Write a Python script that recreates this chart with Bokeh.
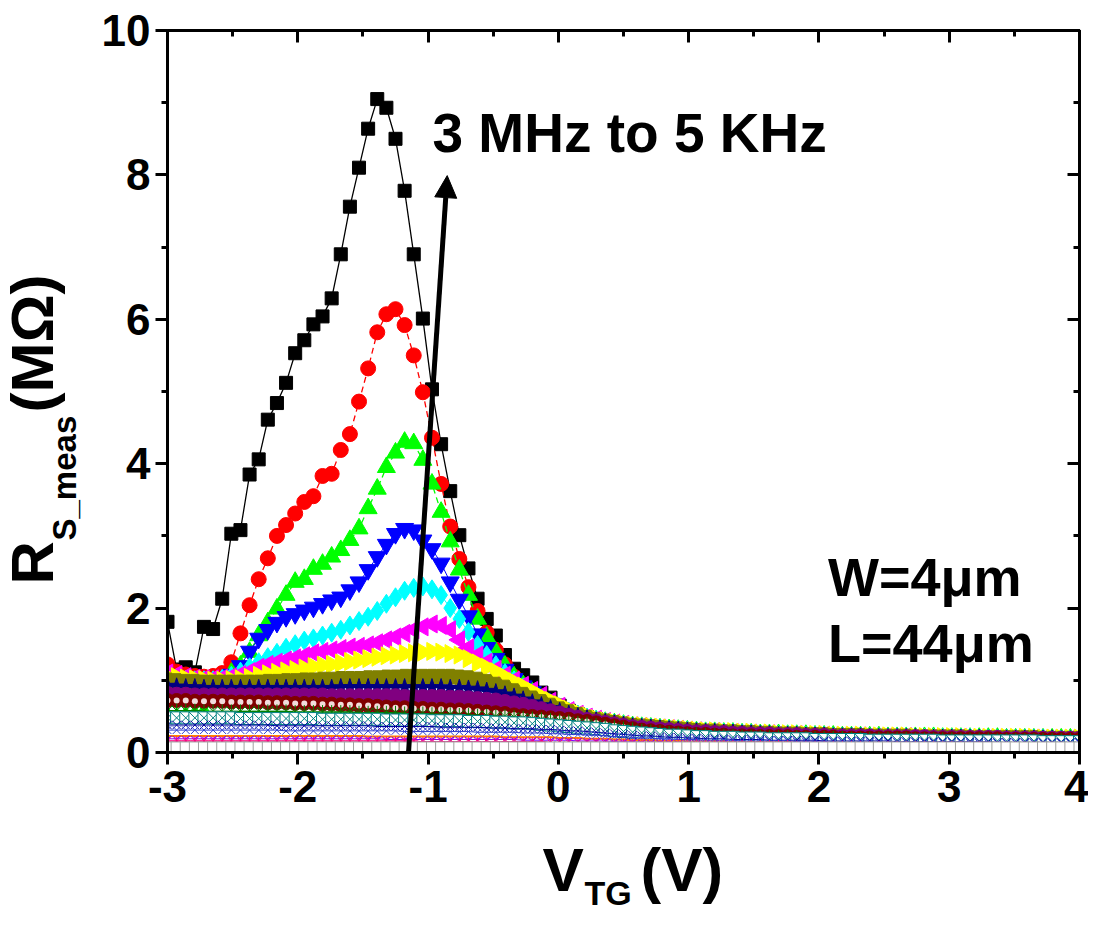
from bokeh.plotting import figure
from bokeh.models import Range1d, LinearAxis, Label, Arrow, NormalHead, SingleIntervalTicker
from bokeh.layouts import row, column
from bokeh.embed import file_html
from bokeh.resources import INLINE

# gate-voltage sweep, -3 V to 4 V in 0.07 V steps (101 points)
VTG = [round(-3 + 0.07 * i, 2) for i in range(101)]

s01_black = [1.81,1.15,1.18,1.11,1.74,1.71,2.13,3.03,3.08,3.85,
 4.06,4.61,4.84,5.12,5.53,5.71,5.93,6.04,6.29,6.90,
 7.56,8.10,8.64,9.05,8.93,8.50,7.78,6.90,6.01,5.03,
 4.27,3.62,3.01,2.55,2.13,1.85,1.62,1.35,1.16,1.07,
 0.97,0.83,0.76,0.65,0.58,0.53,0.49,0.46,0.43,0.41,
 0.39,0.37,0.36,0.35,0.34,0.33,0.32,0.31,0.30,0.29,
 0.29,0.28,0.28,0.27,0.27,0.26,0.26,0.25,0.25,0.25,
 0.24,0.24,0.24,0.23,0.23,0.23,0.23,0.22,0.22,0.22,
 0.22,0.22,0.21,0.21,0.21,0.21,0.21,0.21,0.20,0.20,
 0.20,0.20,0.20,0.20,0.20,0.19,0.19,0.19,0.19,0.19,
 0.19]
s02_red = [1.22,1.12,1.08,1.06,1.05,1.06,1.10,1.25,1.65,2.04,
 2.40,2.69,3.00,3.15,3.31,3.47,3.55,3.83,3.86,4.19,
 4.41,4.86,5.32,5.82,6.07,6.14,5.92,5.50,4.99,4.36,
 3.72,3.13,2.68,2.29,1.96,1.66,1.42,1.22,1.05,0.93,
 0.83,0.74,0.67,0.60,0.55,0.51,0.47,0.44,0.42,0.40,
 0.38,0.36,0.35,0.34,0.33,0.32,0.31,0.30,0.29,0.29,
 0.28,0.28,0.27,0.27,0.26,0.26,0.25,0.25,0.25,0.24,
 0.24,0.24,0.23,0.23,0.23,0.22,0.22,0.22,0.22,0.22,
 0.21,0.21,0.21,0.21,0.21,0.21,0.20,0.20,0.20,0.20,
 0.20,0.20,0.20,0.19,0.19,0.19,0.19,0.19,0.19,0.19,
 0.19]
s03_green = [0.50,0.48,0.50,0.52,0.55,0.90,1.00,1.10,1.20,1.39,
 1.62,1.80,1.99,2.18,2.36,2.40,2.54,2.61,2.71,2.80,
 2.94,3.10,3.38,3.65,3.95,4.15,4.30,4.28,4.05,3.72,
 3.33,2.92,2.53,2.18,1.85,1.60,1.39,1.20,1.05,0.93,
 0.83,0.74,0.67,0.60,0.55,0.51,0.47,0.44,0.42,0.40,
 0.38,0.36,0.35,0.34,0.33,0.32,0.31,0.30,0.29,0.28,
 0.28,0.27,0.27,0.26,0.26,0.25,0.25,0.25,0.24,0.24,
 0.24,0.23,0.23,0.23,0.22,0.22,0.22,0.22,0.22,0.21,
 0.21,0.21,0.21,0.21,0.21,0.20,0.20,0.20,0.20,0.20,
 0.20,0.20,0.19,0.19,0.19,0.19,0.19,0.19,0.19,0.19,
 0.18]
s04_blue = [1.02,1.00,0.98,0.97,0.97,0.98,1.00,1.08,1.20,1.40,
 1.58,1.70,1.80,1.88,1.92,1.97,2.01,2.06,2.11,2.15,
 2.25,2.36,2.53,2.71,2.88,3.03,3.10,3.08,2.94,2.82,
 2.62,2.36,2.12,1.89,1.64,1.45,1.30,1.15,1.02,0.92,
 0.84,0.75,0.68,0.61,0.55,0.51,0.47,0.44,0.41,0.39,
 0.37,0.36,0.35,0.34,0.33,0.32,0.31,0.30,0.29,0.28,
 0.28,0.27,0.27,0.26,0.26,0.25,0.25,0.24,0.24,0.24,
 0.23,0.23,0.23,0.22,0.22,0.22,0.22,0.21,0.21,0.21,
 0.21,0.21,0.21,0.20,0.20,0.20,0.20,0.20,0.20,0.20,
 0.19,0.19,0.19,0.19,0.19,0.19,0.19,0.19,0.18,0.18,
 0.18]
s05_cyan = [1.05,1.03,1.01,1.00,1.00,1.00,1.02,1.06,1.12,1.18,
 1.25,1.32,1.38,1.45,1.50,1.55,1.58,1.62,1.66,1.70,
 1.76,1.82,1.88,1.96,2.06,2.15,2.24,2.28,2.30,2.26,
 2.18,2.00,1.85,1.67,1.49,1.35,1.21,1.10,1.00,0.90,
 0.82,0.74,0.67,0.61,0.56,0.52,0.48,0.45,0.42,0.40,
 0.38,0.36,0.35,0.34,0.33,0.32,0.31,0.30,0.29,0.28,
 0.28,0.27,0.27,0.26,0.26,0.25,0.25,0.24,0.24,0.24,
 0.23,0.23,0.23,0.22,0.22,0.22,0.22,0.21,0.21,0.21,
 0.21,0.21,0.20,0.20,0.20,0.20,0.20,0.20,0.20,0.19,
 0.19,0.19,0.19,0.19,0.19,0.19,0.19,0.18,0.18,0.18,
 0.18]
s06_magenta = [1.10,1.08,1.05,1.03,1.02,1.02,1.03,1.05,1.08,1.12,
 1.18,1.22,1.25,1.28,1.31,1.34,1.38,1.40,1.42,1.44,
 1.46,1.47,1.49,1.52,1.56,1.60,1.65,1.70,1.74,1.78,
 1.76,1.70,1.56,1.45,1.35,1.25,1.15,1.07,1.00,0.93,
 0.86,0.79,0.71,0.64,0.58,0.53,0.49,0.46,0.43,0.41,
 0.39,0.37,0.36,0.35,0.34,0.33,0.32,0.31,0.30,0.29,
 0.29,0.28,0.28,0.27,0.27,0.26,0.26,0.25,0.25,0.25,
 0.24,0.24,0.24,0.23,0.23,0.23,0.23,0.22,0.22,0.22,
 0.22,0.22,0.21,0.21,0.21,0.21,0.21,0.21,0.20,0.20,
 0.20,0.20,0.20,0.20,0.20,0.20,0.19,0.19,0.19,0.19,
 0.19]
s07_yellow = [1.05,1.05,1.03,1.02,1.01,1.00,1.00,1.01,1.02,1.04,
 1.07,1.09,1.11,1.13,1.15,1.17,1.19,1.21,1.22,1.24,
 1.26,1.28,1.30,1.32,1.34,1.35,1.37,1.38,1.39,1.40,
 1.39,1.37,1.35,1.30,1.24,1.18,1.12,1.05,0.98,0.92,
 0.85,0.78,0.72,0.66,0.60,0.55,0.51,0.47,0.44,0.42,
 0.40,0.38,0.37,0.36,0.35,0.34,0.33,0.32,0.31,0.30,
 0.30,0.29,0.29,0.28,0.28,0.27,0.27,0.26,0.26,0.26,
 0.25,0.25,0.25,0.24,0.24,0.24,0.24,0.23,0.23,0.23,
 0.23,0.23,0.22,0.22,0.22,0.22,0.22,0.22,0.21,0.21,
 0.21,0.21,0.21,0.21,0.21,0.21,0.20,0.20,0.20,0.20,
 0.20]
s08_olive = [1.00,0.99,0.98,0.98,0.97,0.97,0.97,0.97,0.97,0.97,
 0.97,0.98,0.98,0.99,0.99,1.00,1.00,1.01,1.01,1.02,
 1.02,1.02,1.03,1.03,1.04,1.04,1.05,1.05,1.05,1.05,
 1.05,1.05,1.04,1.03,1.01,0.98,0.94,0.90,0.85,0.80,
 0.75,0.70,0.65,0.60,0.56,0.52,0.48,0.45,0.43,0.41,
 0.39,0.37,0.36,0.35,0.34,0.33,0.32,0.31,0.30,0.29,
 0.29,0.28,0.28,0.27,0.27,0.26,0.26,0.25,0.25,0.25,
 0.24,0.24,0.24,0.23,0.23,0.23,0.23,0.22,0.22,0.22,
 0.22,0.22,0.21,0.21,0.21,0.21,0.21,0.21,0.20,0.20,
 0.20,0.20,0.20,0.20,0.20,0.20,0.19,0.19,0.19,0.19,
 0.19]
s09_navy = [0.92,0.91,0.90,0.90,0.89,0.89,0.89,0.89,0.89,0.89,
 0.89,0.89,0.89,0.89,0.89,0.89,0.89,0.89,0.89,0.90,
 0.90,0.90,0.90,0.90,0.90,0.90,0.90,0.90,0.90,0.90,
 0.90,0.89,0.89,0.88,0.87,0.85,0.83,0.80,0.77,0.73,
 0.69,0.65,0.61,0.57,0.53,0.50,0.47,0.44,0.42,0.40,
 0.38,0.36,0.35,0.34,0.33,0.32,0.31,0.30,0.29,0.28,
 0.28,0.27,0.27,0.26,0.26,0.25,0.25,0.24,0.24,0.24,
 0.23,0.23,0.23,0.22,0.22,0.22,0.22,0.21,0.21,0.21,
 0.21,0.21,0.21,0.20,0.20,0.20,0.20,0.20,0.20,0.20,
 0.19,0.19,0.19,0.19,0.19,0.19,0.19,0.19,0.18,0.18,
 0.18]
s10_purple = [0.81,0.80,0.80,0.79,0.79,0.79,0.79,0.79,0.79,0.79,
 0.79,0.79,0.79,0.79,0.79,0.79,0.79,0.79,0.78,0.78,
 0.78,0.78,0.78,0.78,0.78,0.78,0.77,0.77,0.77,0.77,
 0.77,0.76,0.76,0.75,0.74,0.73,0.72,0.70,0.68,0.66,
 0.63,0.60,0.57,0.54,0.51,0.48,0.45,0.43,0.41,0.39,
 0.37,0.35,0.34,0.33,0.32,0.31,0.30,0.29,0.28,0.28,
 0.27,0.27,0.26,0.26,0.25,0.25,0.25,0.24,0.24,0.24,
 0.23,0.23,0.23,0.22,0.22,0.22,0.22,0.22,0.21,0.21,
 0.21,0.21,0.21,0.21,0.20,0.20,0.20,0.20,0.20,0.20,
 0.20,0.20,0.19,0.19,0.19,0.19,0.19,0.19,0.19,0.19,
 0.19]
s11_wine = [0.72,0.72,0.72,0.71,0.71,0.71,0.71,0.70,0.70,0.70,
 0.70,0.69,0.69,0.69,0.68,0.68,0.68,0.67,0.67,0.66,
 0.66,0.65,0.65,0.64,0.63,0.62,0.62,0.61,0.61,0.60,
 0.60,0.59,0.59,0.58,0.57,0.56,0.55,0.54,0.52,0.51,
 0.50,0.49,0.48,0.47,0.46,0.44,0.43,0.41,0.39,0.37,
 0.35,0.33,0.31,0.30,0.29,0.28,0.27,0.26,0.25,0.25,
 0.24,0.24,0.23,0.23,0.23,0.22,0.22,0.22,0.22,0.21,
 0.21,0.21,0.21,0.21,0.20,0.20,0.20,0.20,0.20,0.20,
 0.20,0.20,0.19,0.19,0.19,0.19,0.19,0.19,0.19,0.19,
 0.19,0.19,0.18,0.18,0.18,0.18,0.18,0.18,0.18,0.18,
 0.18]
s12_olivegreen = [0.58,0.58,0.58,0.58,0.57,0.57,0.57,0.57,0.57,0.57,
 0.57,0.57,0.57,0.57,0.56,0.56,0.56,0.56,0.56,0.56,
 0.56,0.55,0.55,0.55,0.55,0.55,0.54,0.54,0.54,0.53,
 0.53,0.53,0.52,0.52,0.51,0.51,0.50,0.50,0.49,0.48,
 0.47,0.46,0.45,0.44,0.43,0.41,0.40,0.38,0.36,0.35,
 0.33,0.32,0.30,0.29,0.28,0.27,0.26,0.25,0.25,0.24,
 0.24,0.23,0.23,0.22,0.22,0.22,0.21,0.21,0.21,0.21,
 0.20,0.20,0.20,0.20,0.20,0.19,0.19,0.19,0.19,0.19,
 0.19,0.19,0.18,0.18,0.18,0.18,0.18,0.18,0.18,0.18,
 0.18,0.17,0.17,0.17,0.17,0.17,0.17,0.17,0.17,0.17,
 0.17]
s13_darkcyan = [0.48,0.48,0.48,0.48,0.48,0.48,0.48,0.48,0.47,0.47,
 0.47,0.47,0.47,0.47,0.47,0.47,0.47,0.46,0.46,0.46,
 0.46,0.46,0.46,0.46,0.45,0.45,0.45,0.45,0.45,0.44,
 0.44,0.44,0.44,0.43,0.43,0.43,0.42,0.42,0.41,0.41,
 0.40,0.39,0.38,0.37,0.36,0.35,0.34,0.33,0.32,0.30,
 0.29,0.28,0.27,0.26,0.25,0.24,0.24,0.23,0.22,0.22,
 0.21,0.21,0.21,0.20,0.20,0.20,0.19,0.19,0.19,0.19,
 0.19,0.18,0.18,0.18,0.18,0.18,0.18,0.17,0.17,0.17,
 0.17,0.17,0.17,0.17,0.17,0.16,0.16,0.16,0.16,0.16,
 0.16,0.16,0.16,0.16,0.16,0.16,0.15,0.15,0.15,0.15,
 0.15]
s14_royal = [0.38,0.38,0.38,0.38,0.38,0.38,0.38,0.38,0.38,0.38,
 0.38,0.38,0.37,0.37,0.37,0.37,0.37,0.37,0.37,0.37,
 0.37,0.37,0.37,0.36,0.36,0.36,0.36,0.36,0.36,0.36,
 0.35,0.35,0.35,0.35,0.35,0.34,0.34,0.34,0.33,0.33,
 0.33,0.32,0.32,0.31,0.30,0.30,0.29,0.28,0.27,0.26,
 0.25,0.24,0.23,0.23,0.22,0.21,0.21,0.20,0.20,0.19,
 0.19,0.19,0.18,0.18,0.18,0.18,0.17,0.17,0.17,0.17,
 0.17,0.17,0.16,0.16,0.16,0.16,0.16,0.16,0.16,0.16,
 0.15,0.15,0.15,0.15,0.15,0.15,0.15,0.15,0.15,0.15,
 0.15,0.14,0.14,0.14,0.14,0.14,0.14,0.14,0.14,0.14,
 0.14]
s15_blue2 = [0.31,0.31,0.31,0.31,0.31,0.31,0.31,0.31,0.31,0.31,
 0.31,0.31,0.31,0.30,0.30,0.30,0.30,0.30,0.30,0.30,
 0.30,0.30,0.30,0.30,0.30,0.30,0.29,0.29,0.29,0.29,
 0.29,0.29,0.29,0.29,0.28,0.28,0.28,0.28,0.28,0.27,
 0.27,0.27,0.26,0.26,0.25,0.25,0.24,0.24,0.23,0.22,
 0.22,0.21,0.20,0.20,0.19,0.19,0.18,0.18,0.18,0.17,
 0.17,0.17,0.17,0.16,0.16,0.16,0.16,0.16,0.16,0.15,
 0.15,0.15,0.15,0.15,0.15,0.15,0.15,0.14,0.14,0.14,
 0.14,0.14,0.14,0.14,0.14,0.14,0.14,0.14,0.13,0.13,
 0.13,0.13,0.13,0.13,0.13,0.13,0.13,0.13,0.13,0.13,
 0.13]
s16_orange = [0.23,0.23,0.23,0.23,0.23,0.23,0.23,0.23,0.23,0.23,
 0.23,0.23,0.23,0.23,0.23,0.23,0.23,0.23,0.23,0.23,
 0.23,0.23,0.22,0.22,0.22,0.22,0.22,0.22,0.22,0.22,
 0.22,0.22,0.22,0.22,0.22,0.22,0.22,0.21,0.21,0.21,
 0.21,0.21,0.21,0.20,0.20,0.20,0.19,0.19,0.19,0.18,
 0.18,0.17,0.17,0.17,0.16,0.16,0.16,0.15,0.15,0.15,
 0.15,0.15,0.14,0.14,0.14,0.14,0.14,0.14,0.14,0.13,
 0.13,0.13,0.13,0.13,0.13,0.13,0.13,0.13,0.13,0.12,
 0.12,0.12,0.12,0.12,0.12,0.12,0.12,0.12,0.12,0.12,
 0.12,0.12,0.12,0.12,0.11,0.11,0.11,0.11,0.11,0.11,
 0.11]
s17_violet = [0.19,0.19,0.19,0.19,0.19,0.19,0.19,0.19,0.19,0.19,
 0.19,0.19,0.19,0.19,0.19,0.19,0.19,0.19,0.19,0.19,
 0.19,0.19,0.19,0.19,0.18,0.18,0.18,0.18,0.18,0.18,
 0.18,0.18,0.18,0.18,0.18,0.18,0.18,0.18,0.18,0.17,
 0.17,0.17,0.17,0.17,0.17,0.16,0.16,0.16,0.16,0.15,
 0.15,0.15,0.14,0.14,0.14,0.14,0.13,0.13,0.13,0.13,
 0.13,0.13,0.12,0.12,0.12,0.12,0.12,0.12,0.12,0.12,
 0.12,0.12,0.12,0.11,0.11,0.11,0.11,0.11,0.11,0.11,
 0.11,0.11,0.11,0.11,0.11,0.11,0.11,0.11,0.11,0.11,
 0.10,0.10,0.10,0.10,0.10,0.10,0.10,0.10,0.10,0.10,
 0.10]
s18_pink = [0.16,0.16,0.16,0.16,0.16,0.16,0.16,0.16,0.16,0.16,
 0.16,0.16,0.16,0.16,0.16,0.16,0.16,0.16,0.16,0.16,
 0.16,0.16,0.16,0.16,0.16,0.16,0.16,0.16,0.15,0.15,
 0.15,0.15,0.15,0.15,0.15,0.15,0.15,0.15,0.15,0.15,
 0.15,0.15,0.14,0.14,0.14,0.14,0.14,0.14,0.13,0.13,
 0.13,0.13,0.13,0.12,0.12,0.12,0.12,0.12,0.12,0.11,
 0.11,0.11,0.11,0.11,0.11,0.11,0.11,0.11,0.11,0.10,
 0.10,0.10,0.10,0.10,0.10,0.10,0.10,0.10,0.10,0.10,
 0.10,0.10,0.10,0.10,0.10,0.10,0.10,0.10,0.10,0.10,
 0.09,0.09,0.09,0.09,0.09,0.09,0.09,0.09,0.09,0.09,
 0.09]
s19_gray = [0.07,0.07,0.07,0.07,0.07,0.07,0.07,0.07,0.07,0.07,
 0.07,0.07,0.07,0.07,0.07,0.07,0.07,0.07,0.07,0.07,
 0.07,0.07,0.07,0.07,0.07,0.07,0.07,0.07,0.07,0.07,
 0.07,0.07,0.07,0.07,0.07,0.07,0.07,0.07,0.07,0.07,
 0.07,0.07,0.07,0.07,0.07,0.07,0.07,0.07,0.07,0.07,
 0.07,0.07,0.07,0.07,0.07,0.07,0.07,0.07,0.07,0.07,
 0.07,0.07,0.07,0.07,0.07,0.07,0.07,0.07,0.07,0.07,
 0.07,0.07,0.07,0.07,0.07,0.07,0.07,0.07,0.07,0.07,
 0.07,0.07,0.07,0.07,0.07,0.07,0.07,0.07,0.07,0.07,
 0.07,0.07,0.07,0.07,0.07,0.07,0.07,0.07,0.07,0.07,
 0.07]

X_TICK_LABELS = {-3: "-3", -2: "-2", -1: "-1", 0: "0", 1: "1", 2: "2", 3: "3", 4: "4"}

FONT = "Liberation Sans"
TOTAL_W, TOTAL_H = 1088, 910
YT_W = 90          # strip holding the y-axis title
P_H = 830          # main plot height; the x-axis title strip sits below it
FR_TOP, FR_BOT = 30, 752   # plot frame top / bottom in page pixels

p = figure(width=TOTAL_W - YT_W, height=P_H, x_range=Range1d(-3, 4), y_range=Range1d(0, 10),
           output_backend="svg", toolbar_location=None, title=None,
           min_border_left=167 - YT_W, min_border_right=9, min_border_top=FR_TOP,
           min_border_bottom=P_H - FR_BOT)
p.background_fill_color = "white"
p.border_fill_color = "white"
p.grid.visible = False
p.outline_line_color = "black"
p.outline_line_width = 3

xt = SingleIntervalTicker(interval=1, num_minor_ticks=2)
yt = SingleIntervalTicker(interval=2, num_minor_ticks=2)
p.xaxis.ticker = xt
p.yaxis.ticker = yt
for ax in (p.xaxis[0], p.yaxis[0]):
    ax.axis_line_width = 3
    ax.major_tick_line_width = 3
    ax.minor_tick_line_width = 3
    ax.major_tick_out = 12
    ax.major_tick_in = 0
    ax.minor_tick_out = 6
    ax.minor_tick_in = 0
    ax.major_label_text_font = FONT
    ax.major_label_text_font_style = "bold"
    ax.major_label_text_font_size = "44px"
    ax.major_label_text_color = "black"
p.xaxis.major_label_overrides = X_TICK_LABELS
p.xaxis.major_label_standoff = 6
p.yaxis.major_label_standoff = 5

for loc, tk in (("right", yt), ("above", xt)):
    ax = LinearAxis(ticker=tk, axis_line_width=3, major_tick_line_width=3, minor_tick_line_width=3,
                    major_tick_in=12, major_tick_out=0, minor_tick_in=6, minor_tick_out=0,
                    major_label_text_font_size="1px", major_label_text_color=None,
                    major_label_text_alpha=0, major_label_standoff=0)
    p.add_layout(ax, loc)

def series(y, marker, color, size, line_dash="solid", fill=None, line_color=None, angle=0.0, lw=1.0):
    p.line(VTG, y, line_color=color, line_width=lw, line_dash=line_dash)
    p.scatter(VTG, y, marker=marker, size=size, angle=angle,
              fill_color=fill if fill is not None else color,
              line_color=line_color if line_color is not None else color, line_width=1)

series(s01_black, "square", "black", 13, lw=1.3)
series(s02_red, "circle", "#FF0000", 15, line_dash="6 4", lw=1.3)
series(s03_green, "triangle", "#00FF00", 18, line_dash="6 4", lw=1.3)
series(s04_blue, "inverted_triangle", "#0000FF", 18)
series(s05_cyan, "diamond", "#00FFFF", 19)
series(s06_magenta, "triangle", "#FF00FF", 18, angle=1.5708)
series(s07_yellow, "triangle", "#FFFF00", 18, angle=-1.5708)
series(s08_olive, "hex", "#808000", 17)
series(s09_navy, "star", "#000080", 18)
series(s10_purple, "circle", "#800080", 15)
series(s11_wine, "circle", "#800000", 14)
p.scatter(VTG, s11_wine, marker="circle", size=6, fill_color="#F2DCDC", line_color=None)
series(s12_olivegreen, "asterisk", "#008000", 14, line_color="#008000")
series(s13_darkcyan, "square_x", "#008080", 12, fill="white")
series(s14_royal, "x", "#0000A0", 12)
series(s15_blue2, "x", "#3040D0", 11)
series(s16_orange, "dash", "#FF8000", 10, lw=2)
series(s17_violet, "y", "#8000FF", 9)
series(s18_pink, "asterisk", "#FF0080", 9)
series(s19_gray, "square", "#A0A0A0", 11, fill="white")

p.add_layout(Arrow(end=NormalHead(size=22, fill_color="black", line_color="black", line_width=1),
                   x_start=-1.152, y_start=-0.05, x_end=-0.853, y_end=7.99,
                   line_width=5, line_color="black"))

def lab(fig, x, y, text, size, angle=0.0):
    fig.add_layout(Label(x=x, y=y, text=text, angle=angle, text_font=FONT, text_font_style="bold",
                         text_font_size=size, text_color="black", text_align="left",
                         text_baseline="alphabetic"))

lab(p, -0.966, 8.58, "3 MHz to 5 KHz", "55px")
lab(p, 2.07, 2.43, "W=4\u03bcm", "54px")
lab(p, 2.07, 1.52, "L=44\u03bcm", "54px")

def strip(w, h, y0, y1):
    f = figure(width=w, height=h, x_range=Range1d(0, w), y_range=Range1d(y0, y1),
               output_backend="svg", toolbar_location=None, title=None,
               x_axis_type=None, y_axis_type=None,
               min_border=0, min_border_left=0, min_border_right=0, min_border_top=0, min_border_bottom=0)
    f.outline_line_color = None
    f.grid.visible = False
    f.background_fill_color = "white"
    f.border_fill_color = "white"
    return f

# y-axis title strip (left of the plot). Its frame is aligned with the plot frame by the row,
# so its y range spans the frame: y = P_H - page px.
ys = strip(YT_W, P_H, P_H - FR_BOT, P_H - FR_TOP)
lab(ys, 32, P_H - 584, "R", "60px", angle=1.5708)
lab(ys, 64, P_H - 540, "S_meas", "33px", angle=1.5708)
lab(ys, 32, P_H - 412, "(M\u03a9)", "60px", angle=1.5708)

# x-axis title strip (full width, below): x = page px, y = px up from the page bottom
xs = strip(TOTAL_W, TOTAL_H - P_H, 0, TOTAL_H - P_H)
lab(xs, 542, 41, "V", "62px")
lab(xs, 584, 18, "TG", "34px")
lab(xs, 640, 41, "(V)", "62px")

layout = column(row(ys, p, spacing=0), xs, spacing=0)
open("out.html", "w").write(file_html(layout, INLINE))
